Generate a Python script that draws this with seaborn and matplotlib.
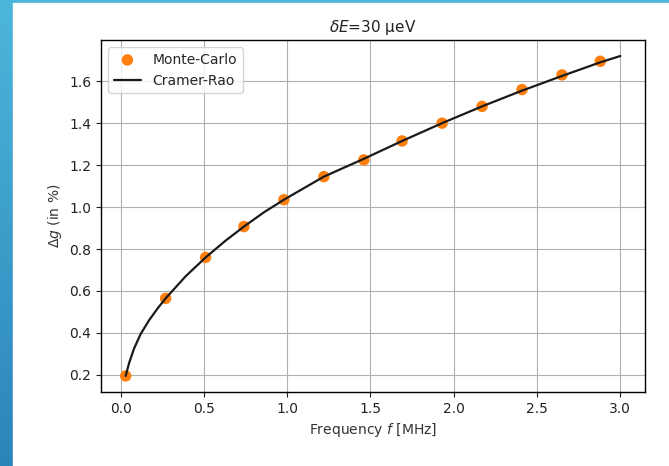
import matplotlib
matplotlib.use('Agg')
import matplotlib.pyplot as plt
import seaborn as sns
import numpy as np
import pandas as pd
from matplotlib.patches import Rectangle

# Monte-Carlo estimates
mc_freq = [0.03, 0.27, 0.51, 0.74, 0.98, 1.22, 1.46, 1.69, 1.93, 2.17, 2.41, 2.65, 2.88]
mc_dg = [0.195, 0.565, 0.76, 0.907, 1.035, 1.145, 1.225, 1.315, 1.40, 1.48, 1.56, 1.63, 1.695]

# Cramer-Rao bound curve
cr_freq = [0.03, 0.05, 0.08, 0.12, 0.17, 0.22, 0.27, 0.39, 0.51, 0.63, 0.74, 0.86, 0.98,
           1.22, 1.46, 1.69, 1.93, 2.17, 2.41, 2.65, 2.88, 3.0]
cr_dg = [0.195, 0.255, 0.325, 0.395, 0.46, 0.515, 0.565, 0.67, 0.76, 0.84, 0.907, 0.975, 1.035,
         1.145, 1.23, 1.315, 1.40, 1.48, 1.555, 1.625, 1.69, 1.72]

df_mc = pd.DataFrame({"f": mc_freq, "dg": mc_dg})
df_cr = pd.DataFrame({"f": cr_freq, "dg": cr_dg})

sns.set_style("ticks")
plt.rcParams['font.family'] = ['DejaVu Sans']

fig = plt.figure(figsize=(6.69, 4.66), dpi=100)

# blue slide border on the left and top
bg = fig.add_axes([0, 0, 1, 1], zorder=-10)
grad = np.linspace(0, 1, 256).reshape(-1, 1)
cmap = matplotlib.colors.LinearSegmentedColormap.from_list("b", ["#4db6dc", "#2c85b9"])
bg.imshow(grad, aspect='auto', cmap=cmap, extent=[0, 1, 0, 1])
bg.add_patch(Rectangle((13 / 669, 0), 1, 1 - 3 / 466, color='white'))
bg.set_xlim(0, 1)
bg.set_ylim(0, 1)
bg.axis('off')

ax = fig.add_axes([0.151, 0.159, 0.813, 0.755])
sns.scatterplot(data=df_mc, x="f", y="dg", ax=ax, color="#ff7f0e", s=68,
                edgecolor='none', label="Monte-Carlo", zorder=3)
sns.lineplot(data=df_cr, x="f", y="dg", ax=ax, color="#1a1a1a", linewidth=1.6,
             label="Cramer-Rao", zorder=4)

ax.set_xlim(-0.118, 3.148)
ax.set_ylim(0.119, 1.796)
ax.set_xticks([0.0, 0.5, 1.0, 1.5, 2.0, 2.5, 3.0])
ax.set_yticks([0.2, 0.4, 0.6, 0.8, 1.0, 1.2, 1.4, 1.6])
ax.grid(True, color='#b0b0b0', linewidth=0.8)
for sp in ax.spines.values():
    sp.set_visible(True)
    sp.set_color('black')
    sp.set_linewidth(1.0)
ax.tick_params(colors='#222222', labelsize=10, length=3.5)

ax.set_title(r"$\delta E$=30 µeV", fontsize=11, color='#222222')
ax.set_xlabel(r"Frequency $f$ [MHz]", fontsize=10, color='#333333')
ax.set_ylabel(r"$\Delta g$ (in %)", fontsize=10, color='#333333')
ax.legend(loc='upper left', frameon=True, fontsize=10, fancybox=True, framealpha=0.8)

plt.savefig("out.png", dpi=100)
